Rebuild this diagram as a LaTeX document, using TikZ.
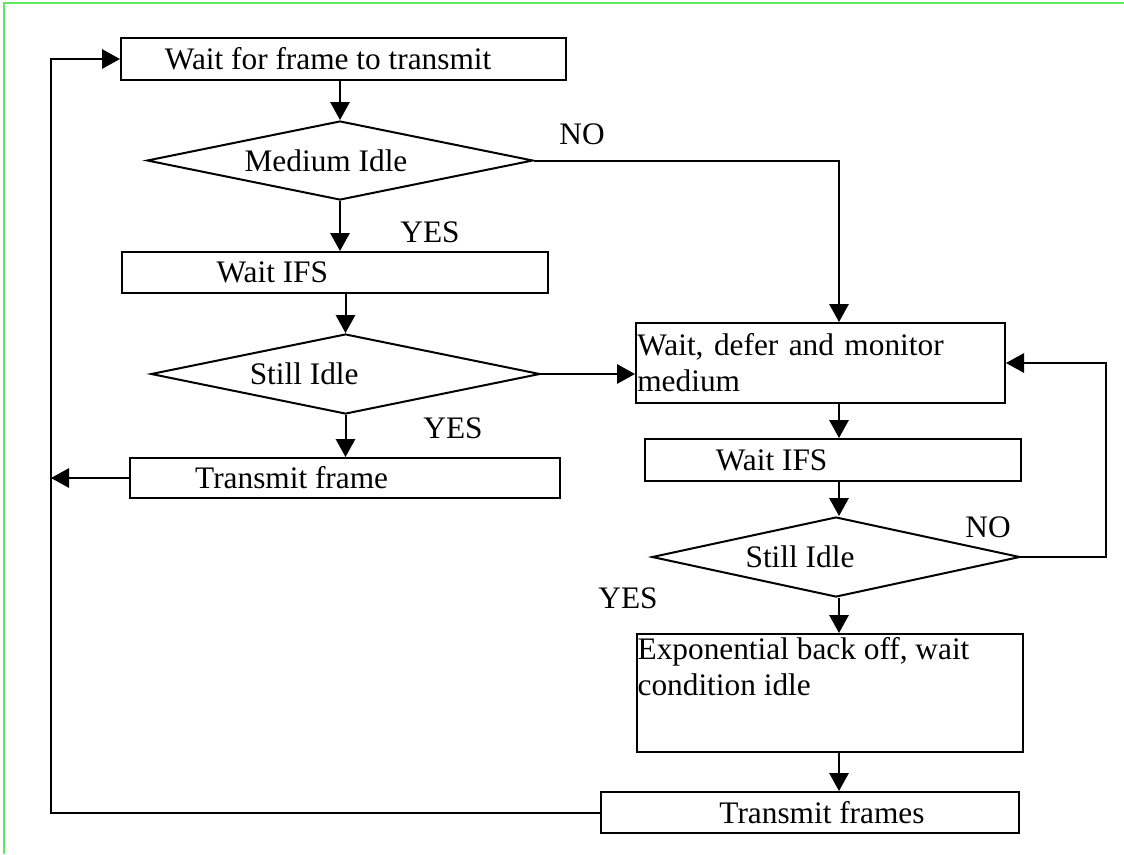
\documentclass[tikz,border=0pt]{standalone}
\usepackage{fontspec}
\setmainfont{Liberation Serif}
\usetikzlibrary{shapes.geometric,arrows.meta}
\definecolor{framegreen}{RGB}{95,235,95}
\begin{document}
\begin{tikzpicture}[x=0.75pt,y=-0.75pt,
  every node/.style={font=\fontsize{23.5}{27}\selectfont},
  box/.style={draw, line width=1.5pt, inner sep=0pt},
  decision/.style={draw, diamond, line width=1.5pt, inner sep=0pt},
  flow/.style={line width=1.5pt, -{Triangle[length=13.5pt,width=14.5pt]}},
  link/.style={line width=1.5pt},
  tag/.style={inner sep=1pt}
]
\useasboundingbox (0,0) rectangle (1124,854);
% page frame
\draw[framegreen, line width=1.5pt] (4,854) -- (4,3) -- (1124,3);

% left column
\node[box, minimum width=333.75pt, minimum height=31.5pt,
      label={[xshift=-11.5pt]center:Wait for frame to transmit}] (a) at (343.5,59) {};
\node[decision, minimum width=289.5pt, minimum height=59.25pt,
      label={[xshift=-10.5pt]center:Medium Idle}] (d1) at (340,160.5) {};
\node[box, minimum width=319.5pt, minimum height=30.75pt,
      label={[xshift=-47pt]center:Wait IFS}] (w1) at (335,272.5) {};
\node[decision, minimum width=291.75pt, minimum height=60pt,
      label={[xshift=-31pt]center:Still Idle}] (d2) at (345.5,374) {};
\node[box, minimum width=322.5pt, minimum height=30pt,
      label={[xshift=-40pt]center:Transmit frame}] (tf) at (345,478) {};

% right column
\node[box, minimum width=276.75pt, minimum height=60pt,
      text width=274.75pt, inner xsep=1pt, align=left] (b) at (820.5,363)
      {Wait, defer and monitor\\medium};
\node[box, minimum width=282pt, minimum height=31.5pt,
      label={[xshift=-46pt]center:Wait IFS}] (w2) at (833,460) {};
\node[decision, minimum width=276pt, minimum height=60pt,
      label={[xshift=-27pt]center:Still Idle}] (d3) at (836,557) {};
\node[box, minimum width=289.5pt, minimum height=88.5pt,
      label={[anchor=north west, align=left, inner sep=1pt, yshift=-2pt]north west:{Exponential back off, wait\\condition idle}}] (c) at (830,693) {};
\node[box, minimum width=313.5pt, minimum height=30.75pt,
      label={[xshift=9pt]center:Transmit frames}] (d) at (810,812.5) {};

% routing columns
\coordinate (lline) at (51,0);
\coordinate (col) at (839,0);
\coordinate (rloop) at (1106,0);

% connectors
\draw[flow] (a.south -| d1.north) -- (d1.north);
\draw[flow] (d1.south) -- (d1.south |- w1.north);
\draw[flow] (w1.south -| d2.north) -- (d2.north);
\draw[flow] (d2.south) -- (d2.south |- tf.north);
\draw[flow] (tf.west) -- (tf.west -| lline);
\draw[flow] (d.west) -- (d.west -| lline) -- (lline |- a.west) -- (a.west);

\draw[flow] (d1.east) -- (d1.east -| col) -- (col |- b.north);
\draw[flow] (d2.east) -- (d2.east -| b.west);
\draw[flow] (col |- b.south) -- (col |- w2.north);
\draw[flow] (w2.south -| col) -- (col |- d3.north);
\draw[flow] (d3.south -| col) -- (col |- c.north);
\draw[flow] (c.south -| col) -- (col |- d.north);
\draw[flow] (d3.east) -- (d3.east -| rloop) -- (rloop |- b.east) -- (b.east);

% branch labels
\node[tag] (no1) at (582,134) {NO};
\node[tag] (yes1) at (430,232) {YES};
\node[tag] (yes2) at (453,428) {YES};
\node[tag, fill=white] (no2) at (988,527) {NO};
\node[tag] (yes3) at (628,598) {YES};
\end{tikzpicture}
\end{document}
